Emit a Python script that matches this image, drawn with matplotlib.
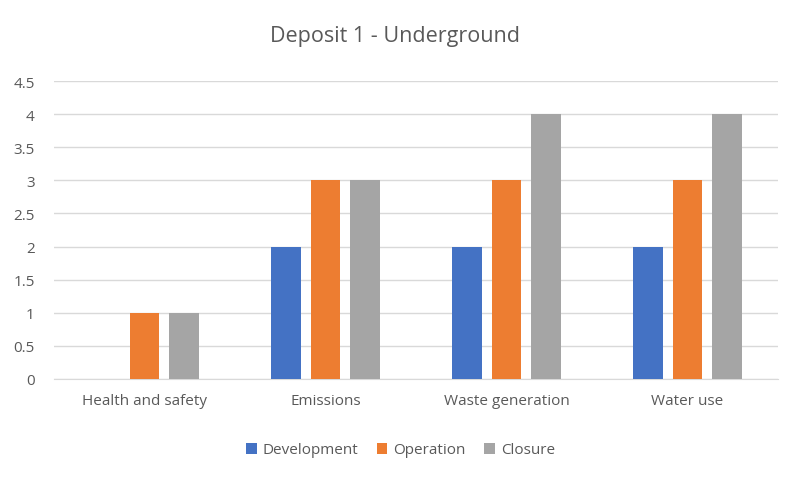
import matplotlib
matplotlib.use("Agg")
import matplotlib.pyplot as plt
import numpy as np

categories = ["Health and safety", "Emissions", "Waste generation", "Water use"]
series_names = ["Development", "Operation", "Closure"]
development = [0, 2, 2, 2]
operation = [1, 3, 3, 3]
closure = [1, 3, 4, 4]
colors = ["#4472C4", "#ED7D31", "#A5A5A5"]

plt.rcParams['font.family'] = ['Open Sans', 'DejaVu Sans']
tc = "#595959"
fig = plt.figure(figsize=(8.01, 4.81), dpi=100)
ax = fig.add_axes([54/801, 101/481, 724/801, 298/481])
x = np.arange(len(categories))
w = 0.165
step = 0.218
for i, (vals, name) in enumerate(zip([development, operation, closure], series_names)):
    ax.bar(x + (i-1)*step, vals, w, color=colors[i], label=name, zorder=3)
ax.set_xlim(-0.5, 3.5)
ax.set_ylim(0, 4.5)
ax.set_yticks(np.arange(0, 4.51, 0.5))
ax.set_yticklabels([f"{v:g}" for v in np.arange(0, 4.51, 0.5)])
ax.set_xticks(x)
ax.set_xticklabels(categories)
ax.grid(axis='y', color="#D9D9D9", lw=1, zorder=0)
for s in ["top", "right", "left"]:
    ax.spines[s].set_visible(False)
ax.spines["bottom"].set_color("#D9D9D9")
ax.tick_params(length=0, colors=tc, labelsize=11)
ax.tick_params(axis='x', pad=10)
ax.tick_params(axis='y', pad=14)
fig.text(0.493, 1-37/481, "Deposit 1 - Underground", ha='center', va='center', fontsize=15.5, color=tc)
fig.legend(loc='center', bbox_to_anchor=(0.5, 1-451/481), ncol=3, frameon=False,
           fontsize=11, labelcolor=tc, handlelength=0.7, handleheight=0.7, columnspacing=1.2, handletextpad=0.4)
fig.savefig("out.png", dpi=100)
